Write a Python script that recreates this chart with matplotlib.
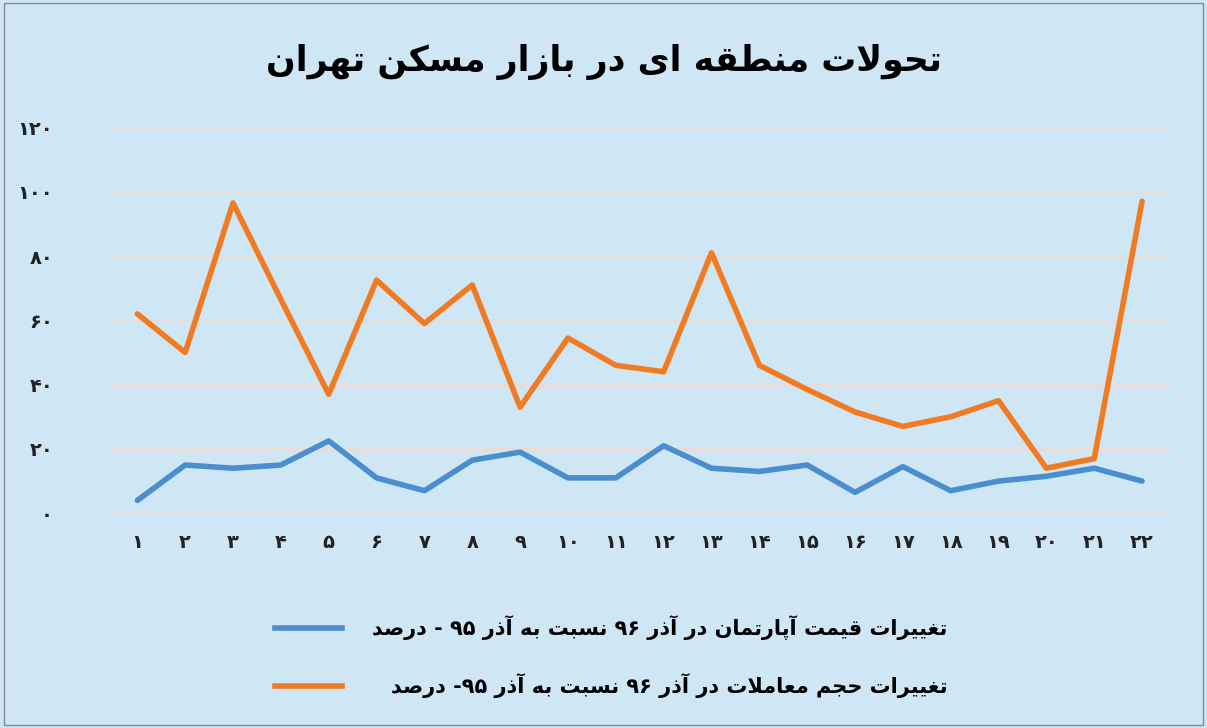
import matplotlib
matplotlib.use("Agg")
import matplotlib.pyplot as plt
from matplotlib.ticker import FuncFormatter

plt.rcParams["font.family"] = ["DejaVu Sans"]

TITLE = "تحولات منطقه ای در بازار مسکن تهران"
LABEL_PRICE = "تغییرات قیمت آپارتمان در آذر ۹۶ نسبت به آذر ۹۵ - درصد"
LABEL_VOLUME = "تغییرات حجم معاملات در آذر ۹۶ نسبت به آذر ۹۵- درصد"

regions = list(range(1, 23))
price_change = [4, 15, 14, 15, 22.5, 11, 7, 16.5, 19, 11, 11, 21, 14, 13, 15, 6.5,
                14.5, 7, 10, 11.5, 14, 10]
volume_change = [62, 50, 96.5, 66.5, 37, 72.5, 59, 71, 33, 54.5, 46, 44, 81, 46, 38.5,
                 31.5, 27, 30, 35, 14, 17, 97]

# minimal Arabic shaping: (isolated, final, initial, medial)
FORMS = {
    "ا": (0xFE8D, 0xFE8E, None, None), "آ": (0xFE81, 0xFE82, None, None),
    "ب": (0xFE8F, 0xFE90, 0xFE91, 0xFE92), "پ": (0xFB56, 0xFB57, 0xFB58, 0xFB59),
    "ت": (0xFE95, 0xFE96, 0xFE97, 0xFE98), "ج": (0xFE9D, 0xFE9E, 0xFE9F, 0xFEA0),
    "ح": (0xFEA1, 0xFEA2, 0xFEA3, 0xFEA4), "د": (0xFEA9, 0xFEAA, None, None),
    "ذ": (0xFEAB, 0xFEAC, None, None), "ر": (0xFEAD, 0xFEAE, None, None),
    "ز": (0xFEAF, 0xFEB0, None, None), "س": (0xFEB1, 0xFEB2, 0xFEB3, 0xFEB4),
    "ص": (0xFEB9, 0xFEBA, 0xFEBB, 0xFEBC),
    "ط": (0xFEC1, 0xFEC2, 0xFEC3, 0xFEC4), "ع": (0xFEC9, 0xFECA, 0xFECB, 0xFECC),
    "غ": (0xFECD, 0xFECE, 0xFECF, 0xFED0), "ق": (0xFED5, 0xFED6, 0xFED7, 0xFED8),
    "ک": (0xFB8E, 0xFB8F, 0xFB90, 0xFB91), "ل": (0xFEDD, 0xFEDE, 0xFEDF, 0xFEE0),
    "م": (0xFEE1, 0xFEE2, 0xFEE3, 0xFEE4), "ن": (0xFEE5, 0xFEE6, 0xFEE7, 0xFEE8),
    "ه": (0xFEE9, 0xFEEA, 0xFEEB, 0xFEEC), "و": (0xFEED, 0xFEEE, None, None),
    "ی": (0xFBFC, 0xFBFD, 0xFBFE, 0xFBFF),
}


def shape(text):
    chars = list(text)
    out = []
    i = 0
    while i < len(chars):
        c = chars[i]
        if c not in FORMS:
            out.append(c)
            i += 1
            continue
        prev = chars[i - 1] if i > 0 else None
        joins_prev = prev in FORMS and FORMS[prev][2] is not None
        if c == "ل" and i + 1 < len(chars) and chars[i + 1] == "ا":
            out.append(chr(0xFEFC if joins_prev else 0xFEFB))
            i += 2
            continue
        nxt = chars[i + 1] if i + 1 < len(chars) else None
        joins_next = FORMS[c][2] is not None and nxt in FORMS
        iso, fin, ini, med = FORMS[c]
        if joins_prev and joins_next:
            g = med
        elif joins_prev:
            g = fin
        elif joins_next:
            g = ini
        else:
            g = iso
        out.append(chr(g))
        i += 1
    # visual order: reverse, keeping digit runs in order
    runs, cur = [], ""
    for ch in out:
        if "\u06f0" <= ch <= "\u06f9":
            cur += ch
        else:
            if cur:
                runs.append(cur)
                cur = ""
            runs.append(ch)
    if cur:
        runs.append(cur)
    return "".join(reversed(runs))


def fa_num(v):
    return "".join(chr(0x06F0 + int(d)) for d in str(int(v)))


fig = plt.figure(figsize=(12.07, 7.28), dpi=100)
fig.patch.set_facecolor("#cfe7f5")
fig.add_artist(plt.Rectangle((0.003, 0.004), 0.994, 0.992, transform=fig.transFigure,
                             fill=False, edgecolor="#888888", linewidth=1))
ax = fig.add_axes([0.09, 0.295, 0.88, 0.53])
ax.set_facecolor("#cfe7f5")

ax.plot(regions, price_change, color="#4a8ed0", linewidth=4, solid_capstyle="round")
ax.plot(regions, volume_change, color="#f07b23", linewidth=4, solid_capstyle="round")

ax.set_ylim(0, 120)
ax.set_yticks(range(0, 121, 20))
ax.set_xlim(0.4, 22.6)
ax.set_xticks(regions)
ax.yaxis.set_major_formatter(FuncFormatter(lambda v, p: fa_num(v)))
ax.xaxis.set_major_formatter(FuncFormatter(lambda v, p: fa_num(v)))
ax.tick_params(axis="both", length=0, labelsize=14, colors="#222222")
ax.tick_params(axis="x", pad=14)
ax.tick_params(axis="y", pad=40)
for t in ax.get_xticklabels() + ax.get_yticklabels():
    t.set_fontweight("bold")
ax.grid(True, axis="y", color="#e8dcd8", linewidth=2)
ax.set_axisbelow(True)
for spine in ax.spines.values():
    spine.set_visible(False)

fig.text(0.5, 0.915, shape(TITLE), ha="center", va="center", fontsize=25, fontweight="bold")

for y, col, lab in [(0.138, "#4a8ed0", LABEL_PRICE), (0.058, "#f07b23", LABEL_VOLUME)]:
    fig.add_artist(plt.Line2D([0.228, 0.283], [y, y], color=col, linewidth=4,
                              transform=fig.transFigure))
    fig.text(0.785, y, shape(lab), ha="right", va="center", fontsize=15, fontweight="bold")

fig.savefig("out.png", dpi=100, facecolor=fig.get_facecolor())
